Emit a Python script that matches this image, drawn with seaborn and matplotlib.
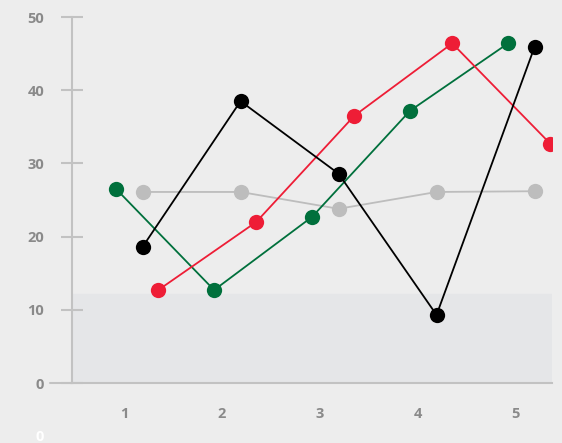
import pandas as pd
import numpy as np
import seaborn as sns
import matplotlib.pyplot as plt

categories = ['1', '2', '3', '4', '5']
gray_vals = [26.1, 26.1, 23.8, 26.1, 26.2]
green_vals = [26.5, 12.7, 22.7, 37.2, 46.4]
red_vals = [12.7, 22.0, 36.5, 46.4, 32.7]
black_vals = [18.6, 38.5, 28.6, 9.3, 45.9]
band_top = 12.2

series = {'gray': gray_vals, 'green': green_vals, 'red': red_vals, 'black': black_vals}
colors = {'gray': '#bdbdbd', 'green': '#00703c', 'red': '#ee1d36', 'black': '#000000'}
# horizontal shift of each series inside a category
shift = {'gray': 0.19, 'green': -0.08, 'red': 0.35, 'black': 0.19}

rows = []
for name, vals in series.items():
    for i, v in enumerate(vals):
        rows.append({'series': name, 'x': i + shift[name], 'y': v})
df = pd.DataFrame(rows)

sns.set_style('white')
plt.rcParams['font.family'] = ['Open Sans', 'DejaVu Sans']

fig = plt.figure(figsize=(5.62, 4.43), dpi=100)
fig.patch.set_facecolor('#ededed')
ax = fig.add_axes([0.128, 0.1354, 0.854, 0.8262])
ax.set_facecolor('#ededed')

ax.axhspan(0, band_top, color='#e5e6e8', zorder=0)

sns.lineplot(data=df, x='x', y='y', hue='series', palette=colors, marker='o',
             markersize=11, markeredgewidth=0, linewidth=1.3, legend=False,
             sort=False, ax=ax, zorder=3)

ax.set_xlim(-0.531, 4.367)
ax.set_ylim(0, 50)
ax.set_xticks(range(len(categories)))
ax.set_xticklabels(categories)
ax.set_yticks([0, 10, 20, 30, 40, 50])
ax.set_xlabel('')
ax.set_ylabel('')

for s in ['top', 'right']:
    ax.spines[s].set_visible(False)
for s in ['left', 'bottom']:
    ax.spines[s].set_color('#c2c2c2')
    ax.spines[s].set_linewidth(1.5)

ax.tick_params(axis='y', left=True, direction='inout', length=16, width=1.5,
               color='#c2c2c2', labelsize=10.5, labelcolor='#8a8a8a', pad=12)
ax.tick_params(axis='x', bottom=False, length=0, labelsize=10.5, labelcolor='#8a8a8a', pad=17)
for lab in ax.get_xticklabels() + ax.get_yticklabels():
    lab.set_fontweight('bold')
# zero tick sticks out further left
ax.plot([-0.531 - 22 / 98, -0.531], [0, 0], color='#c2c2c2', lw=1.5, clip_on=False)

fig.text(40 / 562, 1 - 437 / 443, '0', color='white', fontsize=10.5,
         fontweight='bold', ha='center', va='center')

plt.savefig('out.png', dpi=100, facecolor=fig.get_facecolor())
